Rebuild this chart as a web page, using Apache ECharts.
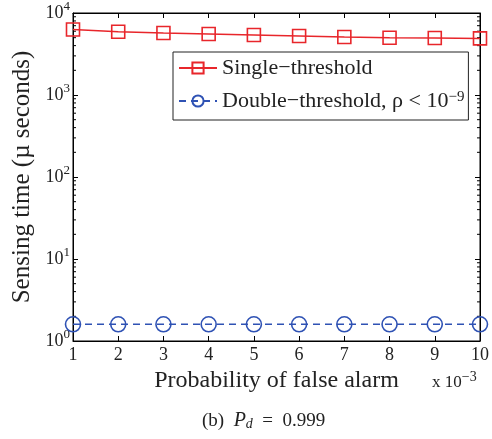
<!DOCTYPE html>
<html>
<head>
<meta charset="utf-8">
<script src="https://cdn.jsdelivr.net/npm/echarts@6/dist/echarts.min.js"></script>
<style>
html,body{margin:0;padding:0;background:#fff;}
#chart{width:492px;height:439px;}
</style>
</head>
<body>
<div id="chart"></div>
<script>
const xValues = [1, 2, 3, 4, 5, 6, 7, 8, 9, 10];
const singleThreshold = [6300, 5900, 5700, 5550, 5400, 5250, 5100, 5000, 4950, 4900];
const doubleThreshold = [1.6, 1.6, 1.6, 1.6, 1.6, 1.6, 1.6, 1.6, 1.6, 1.6];
const xTickLabels = ['1', '2', '3', '4', '5', '6', '7', '8', '9', '10'];
const yTickExponents = ['0', '1', '2', '3', '4'];
const minorTickValues = [2,3,4,5,6,7,8,9, 20,30,40,50,60,70,80,90, 200,300,400,500,600,700,800,900, 2000,3000,4000,5000,6000,7000,8000,9000];

const FONT = "'Liberation Serif', 'DejaVu Serif', serif";
const RED = '#e8262b';
const BLUE = '#2f52b4';
const INK = '#222';

const chart = echarts.init(document.getElementById('chart'), null, {renderer: 'canvas'});

const yLabelFmt = function (v) {
  const e = Math.round(Math.log10(v));
  return '10{sup|' + yTickExponents[e] + '}';
};

const option = {
  backgroundColor: '#fff',
  animation: false,
  grid: {left: 73, right: 11, top: 13, bottom: 98, show: true, borderColor: '#000', borderWidth: 1, backgroundColor: '#fff'},
  legend: {
    orient: 'vertical',
    left: 173,
    top: 52,
    padding: [5, 4, 3, 5],
    itemGap: 11,
    itemWidth: 38,
    itemHeight: 14,
    borderColor: '#222',
    borderWidth: 1,
    backgroundColor: '#fff',
    data: ['Single−threshold', 'Double−threshold, ρ < 10−9'],
    formatter: function (name) {
      if (name.indexOf('Double') === 0) return 'Double−threshold, ρ < 10{sup|−9}';
      return name;
    },
    textStyle: {
      fontFamily: FONT, fontSize: 22, lineHeight: 22, color: INK,
      rich: {sup: {fontFamily: FONT, fontSize: 15, lineHeight: 22, color: INK, verticalAlign: 'top', padding: [0, 0, 12, 0]}}
    }
  },
  xAxis: [{
    type: 'value', min: 1, max: 10, interval: 1, position: 'bottom',
    name: 'Probability of false alarm', nameLocation: 'middle', nameGap: 20,
    nameTextStyle: {fontFamily: FONT, fontSize: 24, color: INK},
    axisLine: {show: true, lineStyle: {color: '#000', width: 1}},
    axisTick: {show: true, inside: true, length: 5, lineStyle: {color: '#000'}},
    axisLabel: {fontFamily: FONT, fontSize: 18, color: INK, margin: 5,
      formatter: function (v) { return xTickLabels[Math.round(v) - 1]; }},
    splitLine: {show: false}
  }, {
    type: 'value', min: 1, max: 10, interval: 1, position: 'top',
    axisLine: {show: true, lineStyle: {color: '#000', width: 1}},
    axisTick: {show: true, inside: true, length: 5, lineStyle: {color: '#000'}},
    axisLabel: {show: false}, splitLine: {show: false}
  }],
  yAxis: [{
    type: 'log', logBase: 10, min: 1, max: 10000, position: 'left',
    name: 'Sensing time (µ seconds)', nameLocation: 'middle', nameGap: 33,
    nameTextStyle: {fontFamily: FONT, fontSize: 25, color: INK},
    axisLine: {show: true, lineStyle: {color: '#000', width: 1}},
    axisTick: {show: true, inside: true, length: 5, lineStyle: {color: '#000'}},
    axisLabel: {fontFamily: FONT, fontSize: 18, color: INK, margin: 3, formatter: yLabelFmt,
      rich: {sup: {fontFamily: FONT, fontSize: 13, color: INK, verticalAlign: 'top', padding: [0, 0, 12, 0]}}},
    splitLine: {show: false}
  }, {
    type: 'log', logBase: 10, min: 1, max: 10000, position: 'right',
    axisLine: {show: true, lineStyle: {color: '#000', width: 1}},
    axisTick: {show: true, inside: true, length: 5, lineStyle: {color: '#000'}},
    axisLabel: {show: false}, splitLine: {show: false}
  }],
  graphic: [
    {type: 'text', left: 432, top: 370, style: {text: 'x 10{sup|−3}', fontFamily: FONT, fontSize: 17, fill: INK,
      rich: {sup: {fontFamily: FONT, fontSize: 14, fill: INK, verticalAlign: 'top', padding: [0, 0, 12, 0]}}}},
    {type: 'text', left: 202, top: 411, style: {text: '(b)  {it|P}{sub|d}  =  0.999', fontFamily: FONT, fontSize: 19, fill: INK,
      rich: {it: {fontFamily: FONT, fontStyle: 'italic', fontSize: 20, fill: INK},
             sub: {fontFamily: FONT, fontStyle: 'italic', fontSize: 14, fill: INK, verticalAlign: 'bottom', padding: [7, 0, 0, 0]}}}}
  ],
  series: [
    {
      name: 'minor', type: 'custom', silent: true, clip: false, xAxisIndex: 0, yAxisIndex: 0,
      data: minorTickValues.map(function (v) { return [1, v]; }),
      encode: {x: 0, y: 1},
      renderItem: function (params, api) {
        const v = api.value(1);
        const pl = api.coord([1, v]);
        const pr = api.coord([10, v]);
        return {type: 'group', children: [
          {type: 'line', shape: {x1: pl[0], y1: pl[1], x2: pl[0] + 3, y2: pl[1]}, style: {stroke: '#000', lineWidth: 1}},
          {type: 'line', shape: {x1: pr[0], y1: pr[1], x2: pr[0] - 3, y2: pr[1]}, style: {stroke: '#000', lineWidth: 1}}
        ]};
      },
      z: 1
    },
    {
      name: 'Single−threshold', type: 'line', xAxisIndex: 0, yAxisIndex: 0,
      data: xValues.map(function (x, i) { return [x, singleThreshold[i]]; }),
      symbol: 'rect', symbolSize: 13,
      lineStyle: {color: RED, width: 1.5},
      itemStyle: {color: 'rgba(0,0,0,0)', borderColor: RED, borderWidth: 1.6},
      clip: false, z: 5
    },
    {
      name: 'Double−threshold, ρ < 10−9', type: 'line', xAxisIndex: 0, yAxisIndex: 0,
      data: xValues.map(function (x, i) { return [x, doubleThreshold[i]]; }),
      symbol: 'circle', symbolSize: 15,
      lineStyle: {color: BLUE, width: 1.5, type: [7, 5]},
      itemStyle: {color: 'rgba(0,0,0,0)', borderColor: BLUE, borderWidth: 1.6},
      clip: false, z: 5
    }
  ]
};
chart.setOption(option);
</script>
</body>
</html>
